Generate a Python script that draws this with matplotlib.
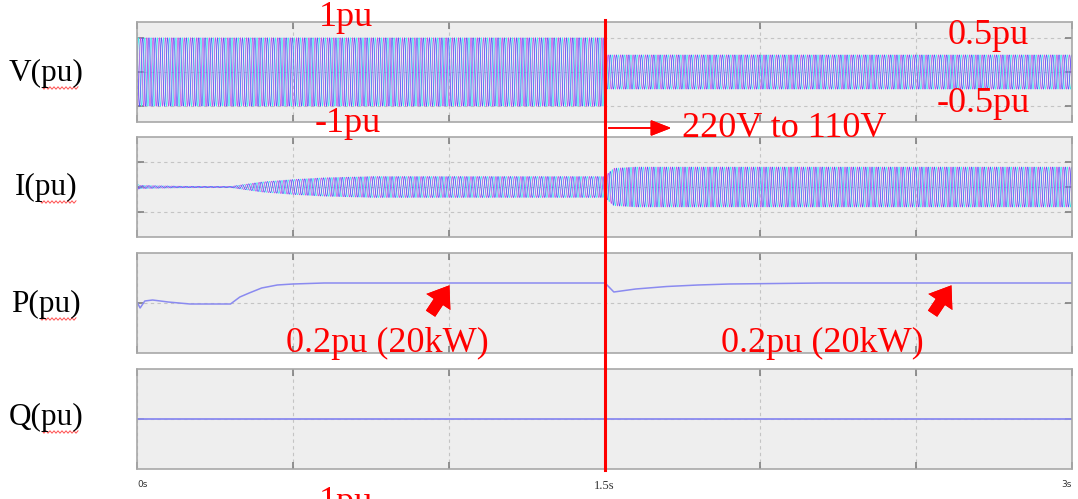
import numpy as np
import matplotlib
matplotlib.use("Agg")
import matplotlib.pyplot as plt
from matplotlib.lines import Line2D

# ---------------- data ----------------
T_END = 3.0
F_GRID = 50.0

# voltage envelope (pu): step from 1pu to 0.5pu at 1.5s
v_env_t = [0.0, 1.5, 1.5001, 3.0]
v_env_a = [1.0, 1.0, 0.5, 0.5]

# current envelope (pu)
i_env_t = [0.0, 0.01, 0.05, 0.15, 0.3, 0.4, 0.5, 0.6, 0.75, 1.5, 1.53, 1.6, 3.0]
i_env_a = [0.12, 0.06, 0.05, 0.03, 0.02, 0.2, 0.3, 0.37, 0.42, 0.42, 0.75, 0.8, 0.8]

# active power (pu)
p_t = [0.0, 0.01, 0.025, 0.05, 0.1, 0.17, 0.3, 0.33, 0.36, 0.4, 0.45, 0.5, 0.6,
       1.5, 1.505, 1.53, 1.6, 1.7, 1.8, 1.9, 2.2, 3.0]
p_v = [0.01, -0.05, 0.02, 0.03, 0.01, -0.01, -0.01, 0.06, 0.10, 0.15, 0.18, 0.19, 0.20,
       0.20, 0.19, 0.11, 0.14, 0.165, 0.18, 0.19, 0.20, 0.20]

# reactive power (pu)
q_t = [0.0, 3.0]
q_v = [0.0, 0.0]

x_ticks = [0.0, 1.5, 3.0]
x_tick_labels = ["0s", "1.5s", "3s"]
panel_labels = ["V(pu)", "I(pu)", "P(pu)", "Q(pu)"]

# ---------------- styling ----------------
W, H = 1078, 499
BG = "#eeeeee"
SPINE = "#a8a8a8"
GRIDC = "#c4c4c4"
PHASE_COLS = ["#40e8f0", "#c24ee8", "#5555ff"]
LINE_C = "#8a8af0"
RED = "#ff0000"
SERIF = ["Liberation Serif", "DejaVu Serif"]


def fx(px):
    return px / W


def fy(py):
    return 1 - py / H


fig = plt.figure(figsize=(W / 100, H / 100), dpi=100)

left_px, right_px = 137, 1072
tops = [22, 137, 253, 369]
ph = 100
axes = []
for top in tops:
    ax = fig.add_axes([fx(left_px), fy(top + ph), (right_px - left_px) / W, ph / H])
    ax.set_facecolor(BG)
    for s in ax.spines.values():
        s.set_color(SPINE)
        s.set_linewidth(1.2)
    ax.set_xlim(0, T_END)
    ax.set_xticks(np.arange(0, 3.01, 0.5))
    ax.tick_params(direction="in", length=5, width=1.2, color="#808080",
                   top=True, right=True, labelbottom=False, labelleft=False)
    ax.grid(True, color=GRIDC, linestyle=(0, (3, 3)), linewidth=0.8)
    ax.set_axisbelow(True)
    axes.append(ax)

t = np.linspace(0, T_END, 90000)
phases = [0, -2 * np.pi / 3, 2 * np.pi / 3]

# V
ax = axes[0]
ax.set_ylim(-1.46, 1.46)
ax.set_yticks([-1, 0, 1])
env = np.interp(t, v_env_t, v_env_a)
for col, phs in zip(PHASE_COLS, phases):
    ax.plot(t, env * np.sin(2 * np.pi * F_GRID * t + phs), color=col, lw=0.5)

# I
ax = axes[1]
ax.set_ylim(-2, 2)
ax.set_yticks([-1, 0, 1])
env = np.interp(t, i_env_t, i_env_a)
for col, phs in zip(PHASE_COLS, phases):
    ax.plot(t, env * np.sin(2 * np.pi * F_GRID * t + phs), color=col, lw=0.5)

# P
ax = axes[2]
ax.set_ylim(-0.5, 0.5)
ax.set_yticks([0])
ax.plot(p_t, p_v, color=LINE_C, lw=1.1)

# Q
ax = axes[3]
ax.set_ylim(-0.5, 0.5)
ax.set_yticks([0])
ax.plot(q_t, q_v, color=LINE_C, lw=1.3)

# time labels under the last panel
for xv, lab in zip(x_ticks, x_tick_labels):
    ha = "left" if xv == 0 else ("right" if xv == T_END else "center")
    if lab == "1.5s":
        fam, fs = SERIF, 9
    else:
        fam, fs = ["DejaVu Sans"], 6.5
    axes[3].annotate(lab, (xv, 0), xycoords=("data", "axes fraction"),
                     xytext=(0, -8), textcoords="offset points",
                     ha=ha, va="top", fontsize=fs, color="#333333", family=fam)

# panel labels on the left, with the spell-check squiggle under "pu"
label_y = [73, 187, 304, 417]
for lab, py in zip(panel_labels, label_y):
    fig.text(fx(46), fy(py), lab, ha="center", va="center", fontsize=22.5,
             family=SERIF, color="black")
    xs = np.arange(0, 36, 1.0)
    zz = py + 15 + 1.2 * np.sin(xs * np.pi / 2)
    off = 43 if lab.startswith(("V", "Q")) else 41
    fig.add_artist(Line2D([fx(off + x) for x in xs], [fy(y) for y in zz],
                          color="#ff5050", lw=0.7))

# red marker line at the step time
xr = fx(left_px + (right_px - left_px) * 1.5 / T_END)
fig.add_artist(Line2D([xr, xr], [fy(20), fy(470)], color=RED, lw=2.2))

# red annotations
red_kw = dict(color=RED, family=SERIF, fontsize=26, ha="center", va="center")
fig.text(fx(346), fy(17), "1pu", **red_kw)
fig.text(fx(348), fy(123), "-1pu", **red_kw)
fig.text(fx(988), fy(36), "0.5pu", **red_kw)
fig.text(fx(983), fy(104), "-0.5pu", **red_kw)
fig.text(fx(784), fy(129), "220V to 110V", **red_kw)
fig.text(fx(387), fy(343), "0.2pu (20kW)", **red_kw)
fig.text(fx(822), fy(343), "0.2pu (20kW)", **red_kw)
fig.text(fx(346), fy(486), "1pu", color=RED, family=SERIF, fontsize=26,
         ha="center", va="top")

fig.add_artist(plt.annotate("", xy=(fx(674), fy(128)), xytext=(fx(606), fy(128)),
                            xycoords="figure fraction", textcoords="figure fraction",
                            arrowprops=dict(arrowstyle="-|>,head_length=0.9,head_width=0.35",
                                            color=RED, lw=1.2, mutation_scale=14)))
for tip_x in [451, 953]:
    fig.add_artist(plt.annotate("", xy=(fx(tip_x), fy(283)), xytext=(fx(tip_x - 22), fy(316)),
                                xycoords="figure fraction", textcoords="figure fraction",
                                arrowprops=dict(arrowstyle="simple,head_width=1.3,head_length=0.9,tail_width=0.5",
                                                color=RED, lw=0, mutation_scale=16)))

fig.savefig("out.png", dpi=100)
